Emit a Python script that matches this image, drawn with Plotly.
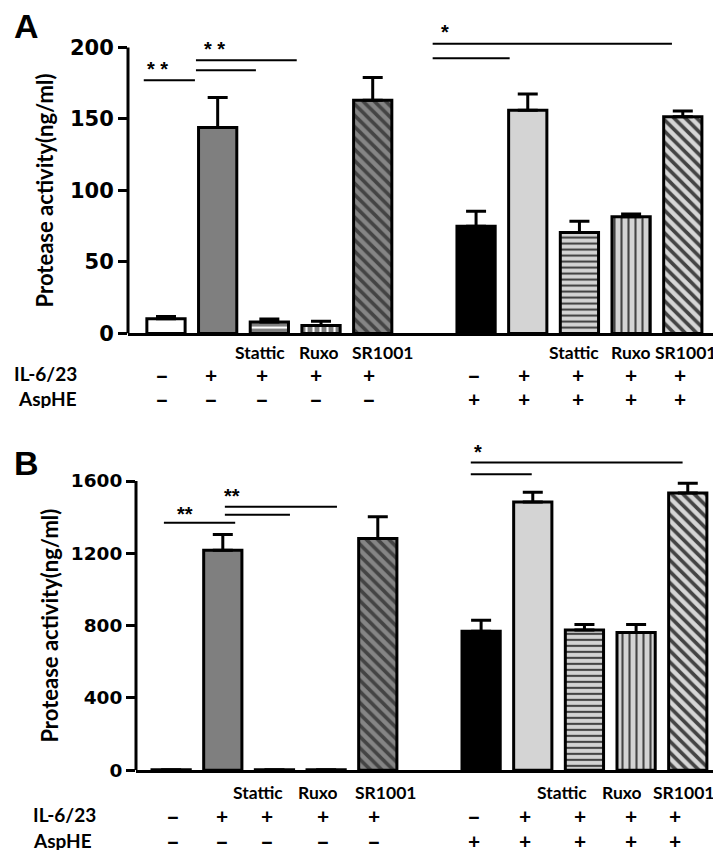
import plotly.graph_objects as go

W, H = 721, 858

# ---- data ----
positions = [0, 1, 2, 3, 4, 6, 7, 8, 9, 10]
treat_labels = ["", "", "Stattic", "Ruxo", "SR1001", "", "", "Stattic", "Ruxo", "SR1001"]
il_row = ["–", "+", "+", "+", "+", "–", "+", "+", "+", "+"]
asp_row = ["–", "–", "–", "–", "–", "+", "+", "+", "+", "+"]

a_values = [10.3, 144, 8, 5.5, 163, 75, 156, 70.5, 81.5, 151.5]
a_errors = [1.5, 21, 2, 3, 16, 10.5, 11.5, 8, 2, 4]
a_ticks = [0, 50, 100, 150, 200]

b_values = [2, 1217, 2, 2, 1282, 769, 1484, 776, 762, 1533]
b_errors = [0, 87, 0, 0, 120, 60, 54, 30, 44, 54]
b_ticks = [0, 400, 800, 1200, 1600]

bar_colors = ["#ffffff", "#7f7f7f", "#7f7f7f", "#7f7f7f", "#858585",
              "#000000", "#d4d4d4", "#d4d4d4", "#d4d4d4", "#d6d6d6"]
pat_shapes = ["", "", "-", "|", "\\", "", "", "-", "|", "\\"]
pat_fg = ["#000", "#000", "#333333", "#333333", "#1e1e1e",
          "#000", "#000", "#333333", "#333333", "#111111"]
pat_size = [8, 8, 6, 7, 8, 8, 8, 6, 7, 8]
pat_solid = [0.3, 0.3, 0.35, 0.3, 0.45, 0.3, 0.3, 0.35, 0.3, 0.45]

# significance brackets: (x0, x1, y)
a_sig = [(-0.43, 0.56, 177), (0.58, 2.53, 191), (0.58, 1.74, 184),
         (5.16, 9.79, 202.5), (5.16, 6.65, 192.5)]
a_stars = [(-0.17, 185, "* *"), (0.93, 199, "* *"), (5.4, 211, "*")]
b_sig = [(-0.14, 1.24, 1369), (1.04, 3.21, 1457), (1.04, 2.30, 1413),
         (5.80, 9.90, 1702), (5.80, 6.98, 1637)]
b_stars = [(0.27, 1418, "**"), (1.18, 1517, "**"), (5.94, 1762, "*")]

# label pixel nudges for each category column (treatment row)
a_lab_shift = [0, 0, -9, -2, 10, 0, 0, -5, 0, 3]
b_lab_shift = [0, 0, -16, -8, 8, 0, 0, -22, -14, -4]
a_sym_shift = [-4, -7, -7, -5, -4, -2, -4, -1, 0, -3]
b_sym_shift = [2, -1, -7, -3, -4, -7, -8, -4, -5, -13]

LATO = "Lato"
ARIAL = "Liberation Sans"
DEJAVU = "DejaVu Sans"


def px_x(p):
    return p / W


def px_y(p):
    return 1 - p / H


fig = go.Figure()

panels = [
    dict(xa="x", ya="y", vals=a_values, errs=a_errors, ticks=a_ticks,
         yr=[0, 216], xr=[-0.735, 10.72], xdom=[120, 712], y0px=330, pxu=1.45,
         sig=a_sig, stars=a_stars, letter="A", letter_y=18, title_x=36,
         lab_y=[349, 371, 396], rowlab_x=70, rowanchor="right", tsize=21,
         lshift=a_lab_shift, sshift=a_sym_shift),
    dict(xa="x2", ya="y2", vals=b_values, errs=b_errors, ticks=b_ticks,
         yr=[0, 1800], xr=[-0.68, 10.74], xdom=[128, 718], y0px=773, pxu=0.1833,
         sig=b_sig, stars=b_stars, letter="B", letter_y=461, title_x=42,
         lab_y=[795, 818, 844], rowlab_x=24, rowanchor="left", tsize=18.5,
         lshift=b_lab_shift, sshift=b_sym_shift),
]

for i, p in enumerate(panels):
    fig.add_trace(go.Bar(
        x=positions, y=p["vals"], xaxis=p["xa"], yaxis=p["ya"], width=0.74,
        marker=dict(color=bar_colors, line=dict(color="black", width=3),
                    pattern=dict(shape=pat_shapes, fgcolor=pat_fg, fgopacity=1,
                                 size=pat_size, solidity=pat_solid, fillmode="overlay")),
        error_y=dict(type="data", symmetric=False, array=p["errs"],
                     arrayminus=[0] * len(p["errs"]), color="black", thickness=3, width=10),
        showlegend=False, hoverinfo="skip"))

    d0, d1 = p["xdom"][0] / W, p["xdom"][1] / W
    r0, r1 = p["xr"]

    def data_to_paper(xv, d0=d0, d1=d1, r0=r0, r1=r1):
        return d0 + (xv - r0) / (r1 - r0) * (d1 - d0)

    ydom_bottom = (H - p["y0px"]) / H
    ydom_top = (H - (p["y0px"] - p["yr"][1] * p["pxu"])) / H
    xk = "xaxis" if i == 0 else "xaxis2"
    yk = "yaxis" if i == 0 else "yaxis2"
    fig.update_layout(**{
        xk: dict(domain=[d0, d1], range=p["xr"],
                 showline=True, linewidth=3, linecolor="black", showticklabels=False,
                 ticks="", showgrid=False, zeroline=False, anchor=p["ya"]),
        yk: dict(domain=[ydom_bottom, ydom_top], range=p["yr"], showline=False,
                 tickvals=p["ticks"], ticks="outside", ticklen=9, tickwidth=3,
                 tickcolor="black", showgrid=False, zeroline=False, anchor=p["xa"],
                 tickfont=dict(family=DEJAVU, size=p["tsize"], color="black",
                               weight="bold")),
    })
    # y axis line from 0 to top tick
    fig.add_shape(type="line", xref=p["xa"] + " domain", yref=p["ya"], x0=0, x1=0,
                  y0=0, y1=p["ticks"][-1], line=dict(color="black", width=3))
    # significance lines
    for (x0, x1, yy) in p["sig"]:
        fig.add_shape(type="line", xref=p["xa"], yref=p["ya"], x0=x0, x1=x1, y0=yy, y1=yy,
                      line=dict(color="black", width=2))
    for (xx, yy, t) in p["stars"]:
        fig.add_annotation(x=xx, y=yy, xref=p["xa"], yref=p["ya"], text=t, showarrow=False,
                           font=dict(family=ARIAL, size=20, color="black", weight="bold"),
                           xanchor="center", yanchor="middle")
    # panel letter
    fig.add_annotation(x=px_x(4), y=px_y(p["letter_y"]), xref="paper", yref="paper",
                       text=p["letter"], showarrow=False, xanchor="left", yanchor="middle",
                       font=dict(family=ARIAL, size=34, color="black", weight="bold"))
    # y axis title
    mid_px = p["y0px"] - p["ticks"][-1] * p["pxu"] / 2
    fig.add_annotation(x=px_x(p["title_x"]), y=px_y(mid_px), xref="paper", yref="paper",
                       text="Protease activity(ng/ml)", textangle=-90, showarrow=False,
                       xanchor="center", yanchor="middle",
                       font=dict(family=LATO, size=22, color="black", weight="bold"))
    # category rows
    for j, xpos in enumerate(positions):
        rows = [treat_labels[j], il_row[j], asp_row[j]]
        for r, txt in enumerate(rows):
            if not txt:
                continue
            shift = p["lshift"][j] if r == 0 else p["sshift"][j]
            size = 17.5 if r == 0 else (24 if txt == "–" else 21)
            fig.add_annotation(x=data_to_paper(xpos), y=px_y(p["lab_y"][r]), xref="paper",
                               yref="paper", text=txt, showarrow=False, xanchor="center",
                               yanchor="middle", xshift=shift, height=18, borderpad=0,
                               font=dict(family=LATO, size=size, color="black",
                                         weight="bold"))
    for r, txt in enumerate(["IL-6/23", "AspHE"]):
        fig.add_annotation(x=px_x(p["rowlab_x"]), y=px_y(p["lab_y"][r + 1]), xref="paper",
                           yref="paper", text=txt, showarrow=False, xanchor=p["rowanchor"],
                           yanchor="middle", height=19, borderpad=0,
                           font=dict(family=LATO, size=19, color="black", weight="bold"))

fig.update_layout(width=W, height=H, margin=dict(l=0, r=0, t=0, b=0),
                  plot_bgcolor="white", paper_bgcolor="white", bargap=0.26)

fig.write_html("out.html")
